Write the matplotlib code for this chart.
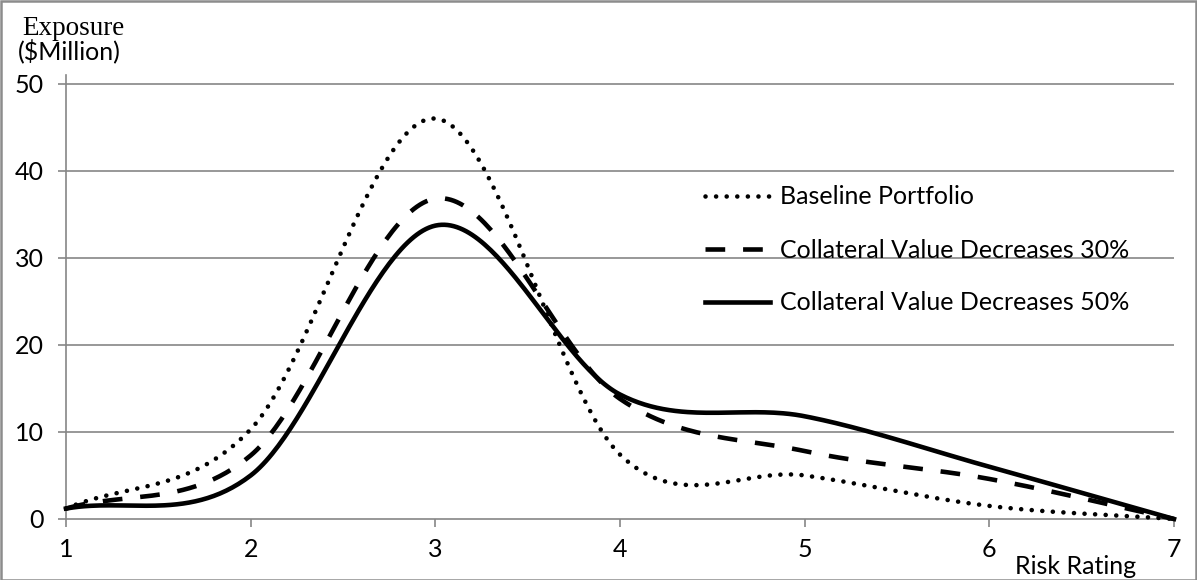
import numpy as np
import matplotlib
matplotlib.use("Agg")
import matplotlib.pyplot as plt
from matplotlib.patches import Rectangle

# ---- data ----
risk_rating = [1, 2, 3, 4, 5, 6, 7]
baseline = [1.2, 10.3, 46.0, 7.4, 5.0, 1.5, 0.0]
decrease_30 = [1.2, 7.3, 36.8, 13.8, 7.8, 4.6, 0.0]
decrease_50 = [1.2, 5.0, 33.7, 14.3, 11.8, 6.0, 0.0]
series_labels = ["Baseline Portfolio",
                 "Collateral Value Decreases 30%",
                 "Collateral Value Decreases 50%"]
y_ticks = [0, 10, 20, 30, 40, 50]


def smooth(xs, ys, n=60):
    """Excel-like smoothed line (cubic Hermite / Catmull-Rom through the points)."""
    xs = np.asarray(xs, float)
    ys = np.asarray(ys, float)
    k = len(ys)
    m = np.zeros(k)
    for i in range(k):
        if i == 0:
            m[i] = ys[1] - ys[0]
        elif i == k - 1:
            m[i] = ys[-1] - ys[-2]
        else:
            m[i] = (ys[i + 1] - ys[i - 1]) / 2.0
    X, Y = [], []
    for i in range(k - 1):
        t = np.linspace(0, 1, n, endpoint=(i == k - 2))
        h00 = 2 * t**3 - 3 * t**2 + 1
        h10 = t**3 - 2 * t**2 + t
        h01 = -2 * t**3 + 3 * t**2
        h11 = t**3 - t**2
        X.append(xs[i] + t * (xs[i + 1] - xs[i]))
        Y.append(h00 * ys[i] + h10 * m[i] + h01 * ys[i + 1] + h11 * m[i + 1])
    return np.concatenate(X), np.concatenate(Y)


W, H = 1197, 580
fig = plt.figure(figsize=(W / 100, H / 100), dpi=100)
sans = ["Lato", "DejaVu Sans"]
plt.rcParams["font.family"] = sans
FS = 18

left, right, bottom, top = 66, 1174, 519, 75
ax = fig.add_axes([left / W, 1 - bottom / H, (right - left) / W, (bottom - top) / H])

grid_c = "#868686"
ax.set_xlim(1, 7)
ax.set_ylim(0, 51)
ax.set_yticks(y_ticks)
ax.set_xticks(risk_rating)
for yv in y_ticks[1:]:
    ax.axhline(yv, color=grid_c, lw=1.2, zorder=1)

for s in ["top", "right"]:
    ax.spines[s].set_visible(False)
for s in ["left", "bottom"]:
    ax.spines[s].set_color(grid_c)
    ax.spines[s].set_linewidth(1.2)
ax.tick_params(axis="both", colors=grid_c, length=6, width=1.2, direction="out",
               labelcolor="black", labelsize=FS)
ax.tick_params(axis="y", pad=10)
ax.tick_params(axis="x", pad=8)

lw = 3.3
xs, ys = smooth(risk_rating, baseline)
ax.plot(xs, ys, color="black", lw=lw, linestyle=(0, (0.01, 2.3)),
        dash_capstyle="round", clip_on=False, zorder=3, label=series_labels[0])
xs, ys = smooth(risk_rating, decrease_30)
ax.plot(xs, ys, color="black", lw=lw, linestyle=(0, (4.3, 3.9)),
        dash_capstyle="butt", clip_on=False, zorder=3, label=series_labels[1])
xs, ys = smooth(risk_rating, decrease_50)
ax.plot(xs, ys, color="black", lw=lw, linestyle="-",
        clip_on=False, zorder=3, label=series_labels[2])

leg = ax.legend(loc="center left", bbox_to_anchor=(705 / W, 1 - 250 / H),
                bbox_transform=fig.transFigure, frameon=False, fontsize=FS,
                handlelength=2.6, handletextpad=0.4, labelspacing=1.2,
                borderpad=0, borderaxespad=0)

# axis titles
fig.text(22 / W, 1 - 35 / H, "Exposure", family=["Liberation Serif"], fontsize=19.5,
         ha="left", va="baseline")
fig.text(18 / W, 1 - 51 / H, "($Million)", fontsize=FS, ha="left", va="center")
fig.text(1076 / W, 1 - 567 / H, "Risk Rating", fontsize=FS, ha="center", va="center")

# chart border
fig.patches.append(Rectangle((0.5 / W, 0.5 / H), 1 - 1.5 / W, 1 - 1.5 / H,
                             transform=fig.transFigure, fill=False,
                             edgecolor="#8c8c8c", lw=1.8))

fig.savefig("out.png", dpi=100)
